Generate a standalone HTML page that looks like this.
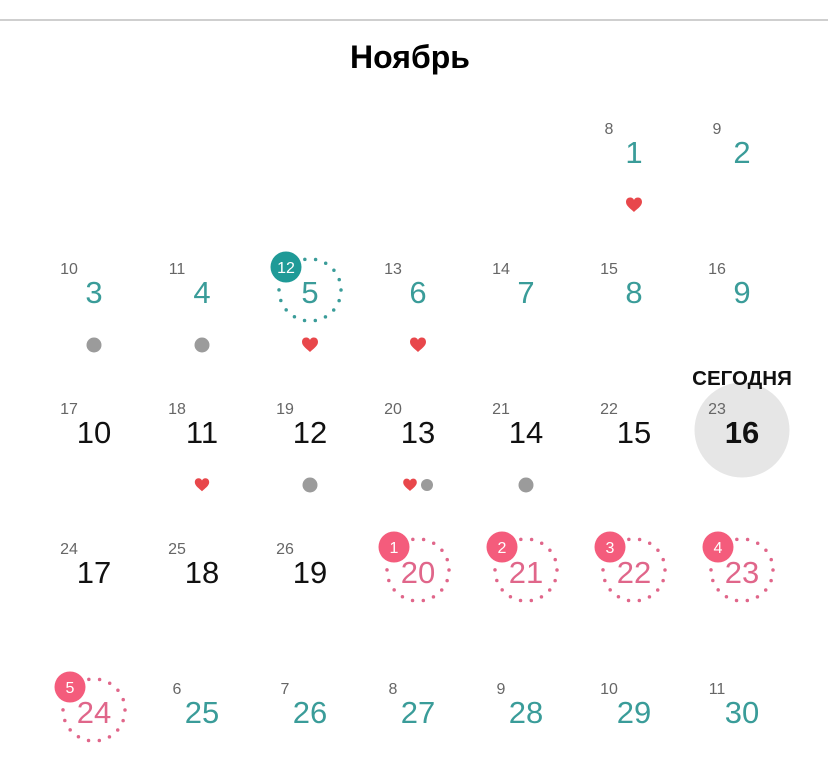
<!DOCTYPE html>
<html><head><meta charset="utf-8"><style>
html,body{margin:0;padding:0;background:#fff;}
svg{display:block;font-family:"Liberation Sans","DejaVu Sans",sans-serif;}
.s{font-size:16px;fill:#666;text-anchor:middle;}
.m{font-size:31px;text-anchor:middle;}
.t{fill:#3a9c99;}
.k{fill:#111;}
.p{fill:#e0668a;}
</style></head><body>
<svg width="828" height="778" viewBox="0 0 828 778" xmlns="http://www.w3.org/2000/svg">
<defs>
<path id="h" d="M0,7 C-3,4 -8,1 -8,-3 C-8,-6 -6,-7.5 -4,-7.5 C-2,-7.5 -0.5,-6.5 0,-5 C0.5,-6.5 2,-7.5 4,-7.5 C6,-7.5 8,-6 8,-3 C8,1 3,4 0,7 Z" fill="#e8474b"/>
</defs>
<rect x="0" y="19" width="828" height="2" fill="#cfcfcf"/>
<text x="410" y="68" text-anchor="middle" font-size="32" font-weight="bold" fill="#000">Ноябрь</text>

<!-- Row 1 (center 152) -->
<text class="s" x="609" y="134">8</text><text class="m t" x="634" y="163">1</text>
<use href="#h" x="634" y="205"/>
<text class="s" x="717" y="134">9</text><text class="m t" x="742" y="163">2</text>

<!-- Row 2 (center 292) -->
<text class="s" x="69" y="274">10</text><text class="m t" x="94" y="303">3</text>
<circle cx="94" cy="345" r="7.5" fill="#9b9b9b"/>
<text class="s" x="177" y="274">11</text><text class="m t" x="202" y="303">4</text>
<circle cx="202" cy="345" r="7.5" fill="#9b9b9b"/>
<circle cx="310" cy="290" r="31" fill="none" stroke="#3a9c99" stroke-width="3.5" stroke-linecap="round" stroke-dasharray="0 10.82"/>
<text class="m t" x="310" y="303">5</text>
<circle cx="286" cy="267" r="15.5" fill="#1f9a97"/>
<text x="286" y="273" text-anchor="middle" font-size="16" fill="#fff">12</text>
<use href="#h" x="310" y="345"/>
<text class="s" x="393" y="274">13</text><text class="m t" x="418" y="303">6</text>
<use href="#h" x="418" y="345"/>
<text class="s" x="501" y="274">14</text><text class="m t" x="526" y="303">7</text>
<text class="s" x="609" y="274">15</text><text class="m t" x="634" y="303">8</text>
<text class="s" x="717" y="274">16</text><text class="m t" x="742" y="303">9</text>

<!-- Row 3 (center 432) -->
<text class="s" x="69" y="414">17</text><text class="m k" x="94" y="443">10</text>
<text class="s" x="177" y="414">18</text><text class="m k" x="202" y="443">11</text>
<g transform="translate(202 485) scale(0.9)"><use href="#h"/></g>
<text class="s" x="285" y="414">19</text><text class="m k" x="310" y="443">12</text>
<circle cx="310" cy="485" r="7.5" fill="#9b9b9b"/>
<text class="s" x="393" y="414">20</text><text class="m k" x="418" y="443">13</text>
<g transform="translate(410 485) scale(0.85)"><use href="#h"/></g>
<circle cx="427" cy="485" r="6" fill="#9b9b9b"/>
<text class="s" x="501" y="414">21</text><text class="m k" x="526" y="443">14</text>
<circle cx="526" cy="485" r="7.5" fill="#9b9b9b"/>
<text class="s" x="609" y="414">22</text><text class="m k" x="634" y="443">15</text>
<circle cx="742" cy="430" r="47.5" fill="#e6e6e6"/>
<text x="742" y="385" text-anchor="middle" font-size="20.5" font-weight="bold" fill="#111">СЕГОДНЯ</text>
<text class="s" x="717" y="414">23</text>
<text x="742" y="443" text-anchor="middle" font-size="31" font-weight="bold" fill="#111">16</text>

<!-- Row 4 (center 572) -->
<text class="s" x="69" y="554">24</text><text class="m k" x="94" y="583">17</text>
<text class="s" x="177" y="554">25</text><text class="m k" x="202" y="583">18</text>
<text class="s" x="285" y="554">26</text><text class="m k" x="310" y="583">19</text>
<g>
<circle cx="418" cy="570" r="31" fill="none" stroke="#e0668a" stroke-width="3.5" stroke-linecap="round" stroke-dasharray="0 10.82"/>
<text class="m p" x="418" y="583">20</text>
<circle cx="394" cy="547" r="15.5" fill="#f45c7c"/>
<text x="394" y="553" text-anchor="middle" font-size="16" fill="#fff">1</text>
</g>
<g>
<circle cx="526" cy="570" r="31" fill="none" stroke="#e0668a" stroke-width="3.5" stroke-linecap="round" stroke-dasharray="0 10.82"/>
<text class="m p" x="526" y="583">21</text>
<circle cx="502" cy="547" r="15.5" fill="#f45c7c"/>
<text x="502" y="553" text-anchor="middle" font-size="16" fill="#fff">2</text>
</g>
<g>
<circle cx="634" cy="570" r="31" fill="none" stroke="#e0668a" stroke-width="3.5" stroke-linecap="round" stroke-dasharray="0 10.82"/>
<text class="m p" x="634" y="583">22</text>
<circle cx="610" cy="547" r="15.5" fill="#f45c7c"/>
<text x="610" y="553" text-anchor="middle" font-size="16" fill="#fff">3</text>
</g>
<g>
<circle cx="742" cy="570" r="31" fill="none" stroke="#e0668a" stroke-width="3.5" stroke-linecap="round" stroke-dasharray="0 10.82"/>
<text class="m p" x="742" y="583">23</text>
<circle cx="718" cy="547" r="15.5" fill="#f45c7c"/>
<text x="718" y="553" text-anchor="middle" font-size="16" fill="#fff">4</text>
</g>

<!-- Row 5 (center 712) -->
<g>
<circle cx="94" cy="710" r="31" fill="none" stroke="#e0668a" stroke-width="3.5" stroke-linecap="round" stroke-dasharray="0 10.82"/>
<text class="m p" x="94" y="723">24</text>
<circle cx="70" cy="687" r="15.5" fill="#f45c7c"/>
<text x="70" y="693" text-anchor="middle" font-size="16" fill="#fff">5</text>
</g>
<text class="s" x="177" y="694">6</text><text class="m t" x="202" y="723">25</text>
<text class="s" x="285" y="694">7</text><text class="m t" x="310" y="723">26</text>
<text class="s" x="393" y="694">8</text><text class="m t" x="418" y="723">27</text>
<text class="s" x="501" y="694">9</text><text class="m t" x="526" y="723">28</text>
<text class="s" x="609" y="694">10</text><text class="m t" x="634" y="723">29</text>
<text class="s" x="717" y="694">11</text><text class="m t" x="742" y="723">30</text>
</svg>
</body></html>
